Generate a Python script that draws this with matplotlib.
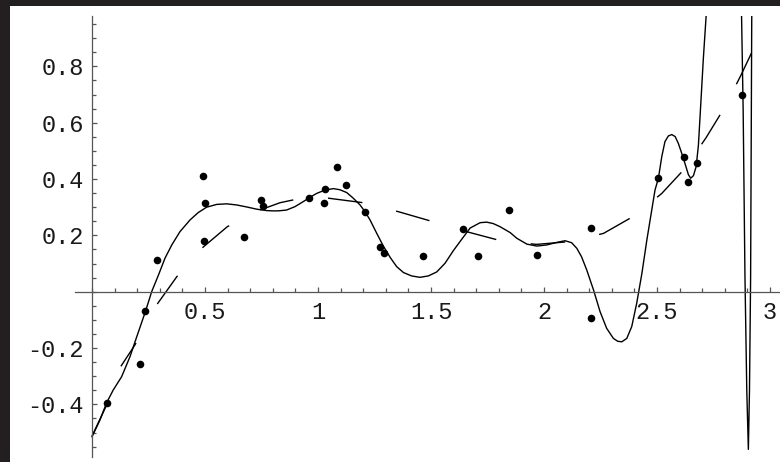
import matplotlib
matplotlib.use("Agg")
import matplotlib.pyplot as plt
from matplotlib.ticker import FixedLocator, FixedFormatter, MultipleLocator

# Measured sample points
pts_x = [0.065, 0.211, 0.236, 0.286, 0.493, 0.500, 0.496, 0.673, 0.748, 0.755,
         0.962, 1.032, 1.027, 1.084, 1.124, 1.209, 1.274, 1.293, 1.465, 1.643,
         1.706, 1.845, 1.967, 2.208, 2.208, 2.503, 2.620, 2.639, 2.676, 2.877]
pts_y = [-0.394, -0.257, -0.069, 0.113, 0.412, 0.316, 0.181, 0.195, 0.326, 0.304,
         0.333, 0.364, 0.314, 0.442, 0.379, 0.283, 0.158, 0.136, 0.127, 0.223,
         0.127, 0.290, 0.129, 0.227, -0.095, 0.403, 0.477, 0.390, 0.458, 0.699]

# High-order fit (solid)
fit_x = [0.000, 0.035, 0.065, 0.094, 0.131, 0.168, 0.198, 0.237, 0.264, 0.294,
         0.323, 0.353, 0.389, 0.434, 0.470, 0.507, 0.552, 0.596, 0.640, 0.684,
         0.729, 0.773, 0.800, 0.824, 0.861, 0.898, 0.935, 0.962, 0.994, 1.031,
         1.068, 1.097, 1.127, 1.156, 1.186, 1.208, 1.230, 1.260, 1.289, 1.319,
         1.348, 1.378, 1.414, 1.451, 1.488, 1.525, 1.562, 1.599, 1.632, 1.673,
         1.717, 1.746, 1.775, 1.805, 1.850, 1.879, 1.924, 1.968, 2.012, 2.056,
         2.093, 2.122, 2.145, 2.166, 2.189, 2.219, 2.248, 2.277, 2.307, 2.326,
         2.344, 2.366, 2.388, 2.410, 2.433, 2.455, 2.491, 2.506, 2.521, 2.535,
         2.550, 2.565, 2.580, 2.594, 2.609, 2.624, 2.639, 2.649, 2.661, 2.673,
         2.683, 2.693, 2.705, 2.717, 2.722,
         2.868, 2.874, 2.881, 2.889, 2.897, 2.904, 2.909, 2.914, 2.919, 2.921]
fit_y = [-0.515, -0.456, -0.394, -0.349, -0.302, -0.231, -0.160, -0.069, 0.000, 0.059,
         0.119, 0.166, 0.213, 0.255, 0.281, 0.300, 0.310, 0.312, 0.308, 0.301,
         0.293, 0.288, 0.287, 0.287, 0.290, 0.302, 0.320, 0.334, 0.349, 0.361,
         0.366, 0.362, 0.352, 0.332, 0.308, 0.284, 0.255, 0.207, 0.162, 0.122,
         0.089, 0.068, 0.056, 0.051, 0.056, 0.070, 0.101, 0.146, 0.182, 0.226,
         0.245, 0.247, 0.242, 0.231, 0.210, 0.190, 0.169, 0.162, 0.166, 0.175,
         0.181, 0.174, 0.154, 0.124, 0.077, 0.006, -0.071, -0.130, -0.166, -0.176,
         -0.178, -0.166, -0.124, -0.041, 0.065, 0.184, 0.361, 0.403, 0.480, 0.533,
         0.553, 0.558, 0.551, 0.527, 0.492, 0.454, 0.415, 0.403, 0.412, 0.444,
         0.520, 0.660, 0.830, 0.977, 1.100,
         1.100, 0.977, 0.645, 0.053, -0.350, -0.560, -0.350, 0.053, 0.977, 1.100]

# Low-order fit (dashed)
smooth_x = [0.000, 0.065, 0.127, 0.190, 0.286, 0.375, 0.481, 0.599, 0.743, 0.832,
            0.891, 1.046, 1.200, 1.356, 1.507, 1.658, 1.813, 1.967, 2.115, 2.263,
            2.403, 2.521, 2.624, 2.717, 2.801, 2.872, 2.956]
smooth_y = [-0.513, -0.402, -0.266, -0.189, -0.047, 0.053, 0.151, 0.231, 0.290, 0.316,
            0.326, 0.332, 0.316, 0.284, 0.249, 0.213, 0.180, 0.168, 0.178, 0.207,
            0.271, 0.349, 0.438, 0.547, 0.657, 0.770, 0.912]

x_ticks = [0.5, 1, 1.5, 2, 2.5, 3]
x_labels = ["0.5", "1", "1.5", "2", "2.5", "3"]
y_ticks = [-0.4, -0.2, 0.2, 0.4, 0.6, 0.8]
y_labels = ["-0.4", "-0.2", "0.2", "0.4", "0.6", "0.8"]

W, H = 780, 462
fig = plt.figure(figsize=(W / 100, H / 100), dpi=100)
fig.patch.set_facecolor("#231f20")

# white canvas inside the dark frame
bg = fig.add_axes([10 / W, 0, 1 - 10 / W, 1 - 6 / H], zorder=-1)
bg.set_axis_off()
bg.add_patch(plt.Rectangle((0, 0), 1, 1, transform=bg.transAxes,
                           facecolor="white", edgecolor="none"))

ax = fig.add_axes([75 / W, 5 / H, 705 / W, 441 / H])
ax.set_facecolor("none")
ax.set_xlim(-0.0752, 3.044)
ax.set_ylim(-0.587, 0.979)

axis_col = "#555555"
for side in ("top", "right"):
    ax.spines[side].set_visible(False)
for side in ("left", "bottom"):
    ax.spines[side].set_position(("data", 0))
    ax.spines[side].set_color(axis_col)
    ax.spines[side].set_linewidth(0.9)

ax.xaxis.set_major_locator(FixedLocator(x_ticks))
ax.xaxis.set_major_formatter(FixedFormatter(x_labels))
ax.xaxis.set_minor_locator(MultipleLocator(0.1))
ax.yaxis.set_major_locator(FixedLocator(y_ticks))
ax.yaxis.set_major_formatter(FixedFormatter(y_labels))
ax.yaxis.set_minor_locator(MultipleLocator(0.05))

mono = ["Liberation Mono", "DejaVu Sans Mono"]
ax.tick_params(which="both", direction="in", color=axis_col, width=0.9)
ax.tick_params(which="major", length=3.5)
ax.tick_params(which="minor", length=2.8)
ax.tick_params(axis="x", which="major", pad=7)
ax.tick_params(axis="y", which="major", pad=6)
for lab in ax.get_xticklabels() + ax.get_yticklabels():
    lab.set_fontfamily(mono)
    lab.set_fontsize(17)
    lab.set_color("#1a1a1a")

dash_seq = [25, 29.5, 20, 32, 25, 27] + [25, 25] * 10
ax.plot(smooth_x, smooth_y, color="black", lw=1.0, linestyle=(0, dash_seq),
        dash_capstyle="butt")
ax.plot(fit_x, fit_y, color="black", lw=1.0)
ax.scatter(pts_x, pts_y, s=30, color="black", zorder=5, linewidths=0)

fig.savefig("out.png", dpi=100, facecolor=fig.get_facecolor())
